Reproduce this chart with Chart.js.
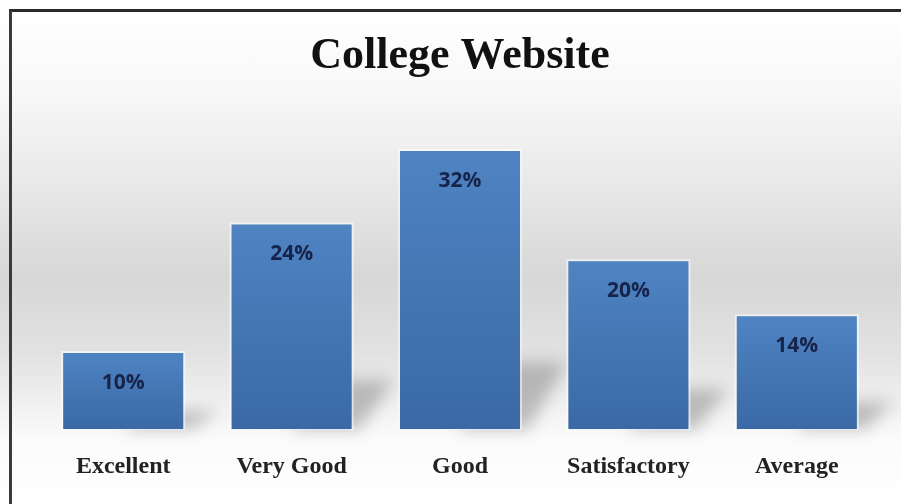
<!DOCTYPE html>
<html>
<head>
<meta charset="utf-8">
<script src="https://cdn.jsdelivr.net/npm/chart.js@4"></script>
<style>
  body { margin: 0; background: #fff; }
  #wrap {
    position: relative; width: 901px; height: 504px; overflow: hidden;
    background: linear-gradient(to bottom, #ffffff 0%, #ffffff 2.4%, #f8f8f8 17.9%, #ebebeb 33.7%,
      #d7d7d7 55%, #e1e1e1 69.4%, #efefef 79.4%, #fbfbfb 87.3%, #ffffff 100%);
  }
  #frame {
    position: absolute; left: 9px; top: 9px; width: 900px; height: 492px;
    border-top: 3px solid #2a2a2a; border-left: 3px solid #3a3a3a; border-bottom: 2px solid #9a9a9a;
    pointer-events: none;
  }
  canvas { position: absolute; left: 0; top: 0; }
</style>
</head>
<body>
<div id="wrap">
  <canvas id="chart" width="901" height="504"></canvas>
  <div id="frame"></div>
</div>
<script>
// Chart data
const categories = ['Excellent', 'Very Good', 'Good', 'Satisfactory', 'Average'];
const percentages = [10, 24, 32, 20, 14];
const axisMin = 1.7;
const axisMax = 37.8;

// Floor shadow + light halo behind each bar
const barBackdrop = {
    id: 'barBackdrop',
    beforeDatasetsDraw(chart) {
        const ctx = chart.ctx;
        chart.getDatasetMeta(0).data.forEach(bar => {
            const left = bar.x - bar.width / 2;
            const right = bar.x + bar.width / 2;
            const h = bar.base - bar.y;
            ctx.save();
            ctx.filter = 'blur(8px)';
            ctx.fillStyle = 'rgba(70,70,70,0.32)';
            ctx.beginPath();
            ctx.moveTo(left + bar.width * 0.5, bar.base);
            ctx.lineTo(right + 8, bar.base);
            ctx.lineTo(right + 30 + h * 0.06, bar.base - h * 0.24);
            ctx.lineTo(left + bar.width * 0.7, bar.base - h * 0.24);
            ctx.closePath();
            ctx.fill();
            ctx.restore();

            ctx.save();
            ctx.strokeStyle = 'rgba(255,255,255,0.55)';
            ctx.lineWidth = 2;
            ctx.strokeRect(left - 1, bar.y - 1, bar.width + 2, h + 1);
            ctx.restore();
        });
    }
};

// Percent labels inside the bars
const valueLabels = {
    id: 'valueLabels',
    afterDatasetsDraw(chart) {
        const ctx = chart.ctx;
        ctx.save();
        ctx.font = 'bold 21px "Open Sans"';
        ctx.fillStyle = '#16244a';
        ctx.textAlign = 'center';
        ctx.textBaseline = 'middle';
        chart.getDatasetMeta(0).data.forEach((bar, i) => {
            ctx.fillText(percentages[i] + '%', bar.x, bar.y + 30);
        });
        ctx.restore();
    }
};

function barFill(context) {
    const chart = context.chart;
    const y = chart.scales && chart.scales.y;
    if (context.type !== 'data' || !y || !chart.chartArea) return '#4a7ebb';
    const top = y.getPixelForValue(context.parsed.y);
    const bottom = y.getPixelForValue(axisMin);
    const g = chart.ctx.createLinearGradient(0, top, 0, bottom);
    g.addColorStop(0, '#4f83c2');
    g.addColorStop(1, '#3a69a6');
    return g;
}

new Chart(document.getElementById('chart').getContext('2d'), {
    type: 'bar',
    data: {
        labels: categories,
        datasets: [{
            data: percentages,
            base: axisMin,
            backgroundColor: barFill,
            borderWidth: 0,
            barPercentage: 1,
            categoryPercentage: 0.713
        }]
    },
    options: {
        responsive: false,
        animation: false,
        layout: { padding: { left: 39, right: 20, top: 12, bottom: 0 } },
        plugins: {
            legend: { display: false },
            tooltip: { enabled: false },
            title: {
                display: true,
                text: 'College Website',
                color: '#111',
                font: { family: '"Liberation Serif"', size: 44, weight: 'bold' },
                padding: { top: 18, bottom: 15 }
            }
        },
        scales: {
            y: { display: false, min: axisMin, max: axisMax },
            x: {
                grid: { display: false, drawTicks: false },
                border: { display: false },
                ticks: {
                    color: '#222',
                    padding: 23,
                    font: { family: '"Liberation Serif"', size: 24, weight: 'bold' }
                }
            }
        }
    },
    plugins: [barBackdrop, valueLabels]
});
</script>
</body>
</html>
